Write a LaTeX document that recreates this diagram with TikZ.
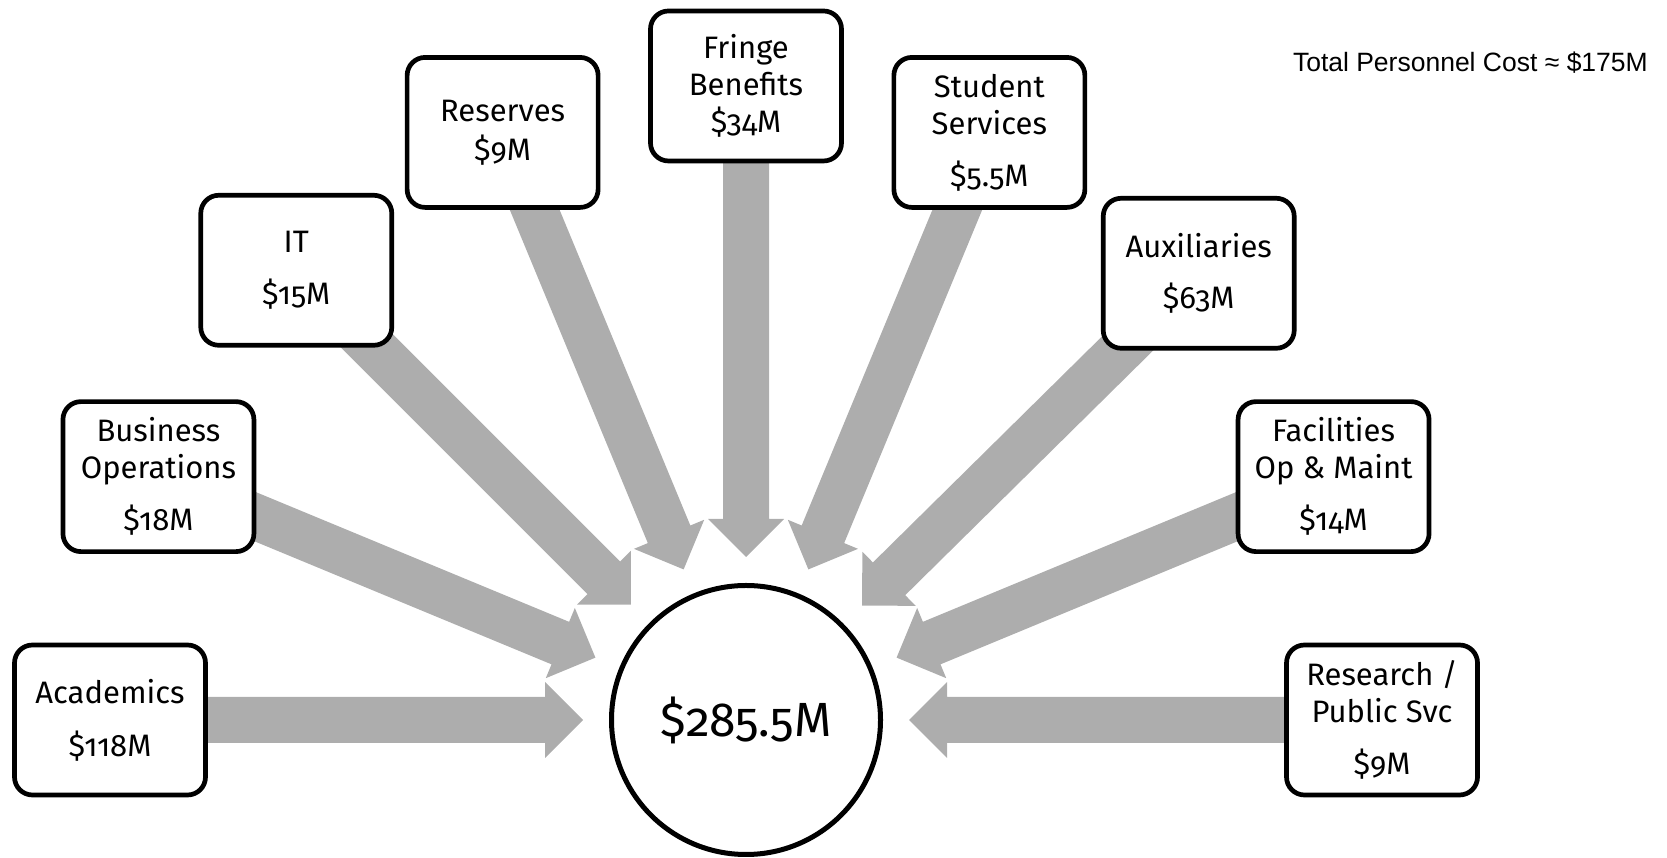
\documentclass[tikz,border=0pt]{standalone}
\usepackage{fontspec}
\setmainfont{Fira Sans}[Numbers=OldStyle]
\newfontfamily\arialfont{Liberation Sans}
\usetikzlibrary{calc,backgrounds}
\definecolor{arrowgray}{HTML}{ADADAD}
\tikzset{
  box/.style={draw=black, line width=4.7pt, rounded corners=18pt, fill=white,
    minimum width=191pt, minimum height=150pt, inner sep=0pt, align=center,
    font=\fontsize{31}{37}\selectfont},
  hub/.style={circle, draw=black, line width=5pt, fill=white, minimum size=269pt,
    inner sep=0pt, font=\fontsize{48}{52}\selectfont},
  fatarrow/.style={fill=arrowgray, draw=none},
}
\newcommand{\fatarrowto}[2]{%
  \fill[fatarrow]
    ($(#2.center)!163pt!(#1.center)$)
    -- ($(#2.center)!201pt!(#1.center)!38pt!90:(#1.center)$)
    -- ($(#2.center)!201pt!(#1.center)!23pt!90:(#1.center)$)
    -- ($(#1.center)!23pt!-90:(#2.center)$)
    -- ($(#1.center)!23pt!90:(#2.center)$)
    -- ($(#2.center)!201pt!(#1.center)!23pt!-90:(#1.center)$)
    -- ($(#2.center)!201pt!(#1.center)!38pt!-90:(#1.center)$)
    -- cycle;}
\begin{document}
\begin{tikzpicture}[x=1pt,y=1pt]
\useasboundingbox (0,0) rectangle (1667,858);
\coordinate (C) at (746,138);
\node[hub] (hub) at (C) {\$285.5M};
\node[box] (acad) at ($(C)+(180:636)$) {Academics\\[16pt]\$118M};
\node[box] (bus)  at ($(C)+(157.5:636)$) {Business\\Operations\\[15pt]\$18M};
\node[box] (it)   at ($(C)+(135:636)$) {IT\\[15pt]\$15M};
\node[box] (res)  at ($(C)+(112.5:636)$) {Reserves\\[2pt]\$9M};
\node[box] (fri)  at ($(C)+(90:636)+(0,-2)$) {Fringe\\Benefits\\\$34M};
\node[box] (stu)  at ($(C)+(67.5:636)$) {Student\\Services\\[15pt]\$5.5M};
\node[box] (aux)  at ($(C)+(45:636)+(3,-3)$) {Auxiliaries\\[14pt]\$63M};
\node[box] (fac)  at ($(C)+(22.5:636)$) {Facilities\\Op \& Maint\\[15pt]\$14M};
\node[box] (rps)  at ($(C)+(0:636)$) {Research /\\Public Svc\\[15pt]\$9M};
\node[anchor=base east, inner sep=0pt, font=\arialfont\fontsize{26.5}{29}\selectfont] (total) at (1648,786) {Total Personnel Cost ≈ \$175M};
\begin{scope}[on background layer]
\foreach \b in {acad,bus,it,res,fri,stu,aux,fac,rps}{\fatarrowto{\b}{hub}}
\end{scope}
\end{tikzpicture}
\end{document}
